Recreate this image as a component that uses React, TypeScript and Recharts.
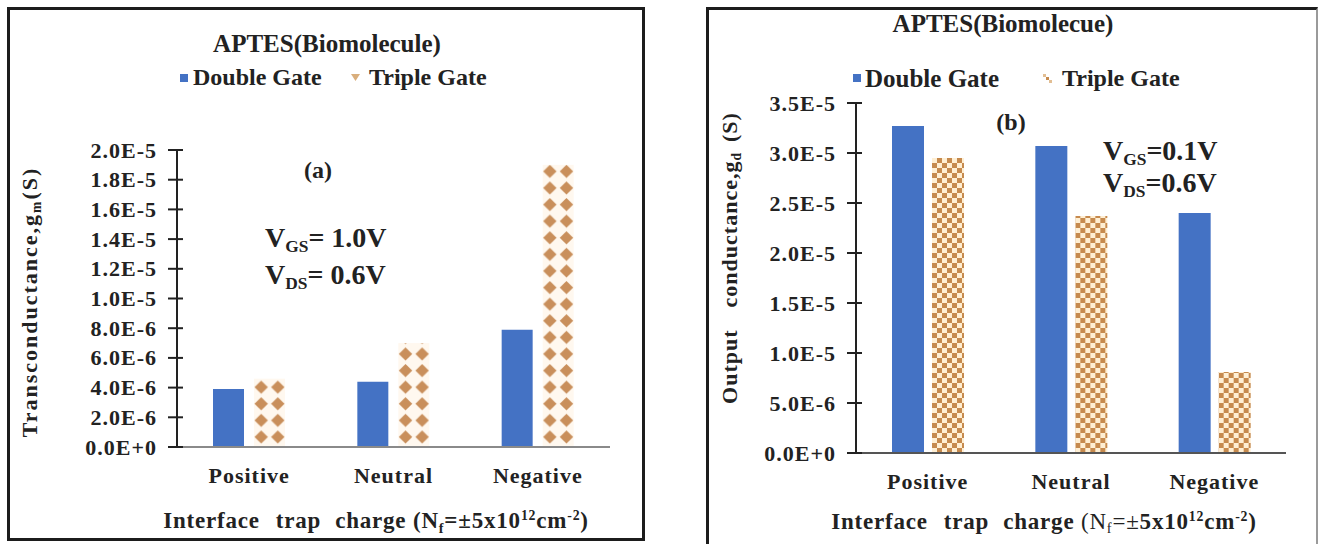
import { BarChart, Bar, XAxis, YAxis } from 'recharts';

// values
const categories = ['Positive', 'Neutral', 'Negative'];

const gmDouble = [3.9e-6, 4.4e-6, 7.9e-6];
const gmTriple = [4.6e-6, 7.0e-6, 1.9e-5];
const gmTicks = [0, 2e-6, 4e-6, 6e-6, 8e-6, 1e-5, 1.2e-5, 1.4e-5, 1.6e-5, 1.8e-5, 2e-5];

const gdDouble = [3.27e-5, 3.07e-5, 2.4e-5];
const gdTriple = [2.95e-5, 2.37e-5, 8.1e-6];
const gdTicks = [0, 5e-6, 1e-5, 1.5e-5, 2e-5, 2.5e-5, 3e-5, 3.5e-5];

const FONT = '"Liberation Serif", "Times New Roman", serif';
const INK = '#222';
const BLUE = '#4472C4';

const gmData = categories.map((c, i) => ({ cat: c, dg: gmDouble[i], tg: gmTriple[i] }));
const gdData = categories.map((c, i) => ({ cat: c, dg: gdDouble[i], tg: gdTriple[i] }));

const fmt = (v: number) => v.toExponential(1).toUpperCase();

const YTick = (props: any) => {
  const { x, y, payload } = props;
  return (
    <g>
      <line x1={x - 9} x2={x + 6} y1={y} y2={y} stroke={INK} strokeWidth={2} />
      <text x={x - 20} y={y} textAnchor="end" dominantBaseline="central" fontFamily={FONT}
        fontWeight="bold" fontSize={22} letterSpacing={1} fill={INK}>
        {fmt(payload.value)}
      </text>
    </g>
  );
};

const XTick = (props: any) => {
  const { x, y, payload } = props;
  return (
    <text x={x} y={y + 28} textAnchor="middle" dominantBaseline="central" fontFamily={FONT}
      fontWeight="bold" fontSize={22} letterSpacing={1} fill={INK}>
      {payload.value}
    </text>
  );
};

// diamond pattern bars (panel a)
const DiamondBar = (props: any) => {
  const { x, y, width, height, index } = props;
  if (!height || height <= 0) return null;
  const id = `dia-${index}`;
  const s = 16.6;
  return (
    <g>
      <defs>
        <pattern id={id} patternUnits="userSpaceOnUse" x={x + width / 2 - s} y={y + height} width={s} height={s}>
          <rect width={s} height={s} fill="#FFF8EF" />
          <polygon points="8.3,0 15.0,6.6 8.3,13.2 1.6,6.6" fill="#C98F5B" />
        </pattern>
      </defs>
      <rect x={x} y={y} width={width} height={height} fill={`url(#${id})`} />
    </g>
  );
};

// checker pattern bars (panel b)
const CheckerBar = (props: any) => {
  const { x, y, width, height, index } = props;
  if (!height || height <= 0) return null;
  const id = `chk-${index}`;
  return (
    <g>
      <defs>
        <pattern id={id} patternUnits="userSpaceOnUse" x={x} y={y + height} width={10} height={10}>
          <rect width={10} height={10} fill="#FFEFD3" />
          <rect x={0} y={0} width={5} height={5} fill="#C68A4E" />
          <rect x={5} y={5} width={5} height={5} fill="#C68A4E" />
        </pattern>
      </defs>
      <rect x={x} y={y} width={width} height={height} fill={`url(#${id})`} />
    </g>
  );
};

const Txt = ({ x, y, size, children, anchor = 'middle', rotate = false, style = {} }: any) => {
  const tx = anchor === 'middle' ? '-50%' : anchor === 'end' ? '-100%' : '0';
  return (
    <div style={{
      position: 'absolute', left: x, top: y,
      transform: `translate(${tx}, -50%)${rotate ? ' rotate(-90deg)' : ''}`,
      fontFamily: FONT, fontWeight: 'bold', fontSize: size, lineHeight: 1,
      whiteSpace: 'pre', color: INK, ...style,
    }}>
      {children}
    </div>
  );
};

const sub = (t: string, size = '0.62em') => (
  <span style={{ fontSize: size, verticalAlign: '-0.3em' }}>{t}</span>
);
const sup = (t: string) => (
  <span style={{ fontSize: '0.6em', verticalAlign: '0.6em' }}>{t}</span>
);
const word = (t: string, gap: number) => (
  <span style={{ marginRight: gap }}>{t}</span>
);

export default function App() {
  return (
    <div style={{ position: 'absolute', left: 0, top: 0, width: 1319, height: 544, background: '#fff', overflow: 'hidden' }}>
      {/* frames */}
      <div style={{ position: 'absolute', left: 7, top: 7, width: 638, height: 534, border: '3px solid #1c1c1c', boxSizing: 'border-box' }} />
      <div style={{ position: 'absolute', left: 706, top: 7, width: 612, height: 560, borderLeft: '3px solid #1c1c1c', borderTop: '3px solid #1c1c1c', borderRight: '2px solid #9a9a9a', boxSizing: 'border-box' }} />

      {/* panel (a) */}
      <div style={{ position: 'absolute', left: 0, top: 0 }}>
        <BarChart width={660} height={544} data={gmData} margin={{ top: 150, right: 50, bottom: 57, left: 77 }} barSize={31} barGap={10}>
          <XAxis dataKey="cat" height={40} interval={0} tickSize={0} tickMargin={0} tickLine={false}
            axisLine={{ stroke: '#8a8a8a', strokeWidth: 2 }} tick={(p: any) => <XTick {...p} />} />
          <YAxis width={100} domain={[0, 2e-5]} ticks={gmTicks} interval={0} tickSize={0} tickMargin={0} tickLine={false}
            axisLine={{ stroke: INK, strokeWidth: 2 }} tick={(p: any) => <YTick {...p} />} />
          <Bar dataKey="dg" fill={BLUE} isAnimationActive={false} />
          <Bar dataKey="tg" shape={(p: any) => <DiamondBar {...p} />} isAnimationActive={false} />
        </BarChart>
      </div>

      {/* panel (b) */}
      <div style={{ position: 'absolute', left: 700, top: 0 }}>
        <BarChart width={619} height={544} data={gdData} margin={{ top: 103, right: 33, bottom: 51, left: 56 }} barSize={32} barGap={8}>
          <XAxis dataKey="cat" height={40} interval={0} tickSize={0} tickMargin={0} tickLine={false}
            axisLine={{ stroke: '#555', strokeWidth: 2 }} tick={(p: any) => <XTick {...p} />} />
          <YAxis width={100} domain={[0, 3.5e-5]} ticks={gdTicks} interval={0} tickSize={0} tickMargin={0} tickLine={false}
            axisLine={{ stroke: INK, strokeWidth: 2 }} tick={(p: any) => <YTick {...p} />} />
          <Bar dataKey="dg" fill={BLUE} isAnimationActive={false} />
          <Bar dataKey="tg" shape={(p: any) => <CheckerBar {...p} />} isAnimationActive={false} />
        </BarChart>
      </div>

      {/* panel (a) texts */}
      <Txt x={327} y={43} size={25}>APTES(Biomolecule)</Txt>
      <div style={{ position: 'absolute', left: 180, top: 74, width: 8, height: 8, background: BLUE }} />
      <Txt x={193} y={77} size={24} anchor="start">Double Gate</Txt>
      <svg style={{ position: 'absolute', left: 351, top: 74 }} width={9} height={8}>
        <polygon points="0,0 9,0 4.5,7" fill="#D9AE7C" />
      </svg>
      <Txt x={369} y={77} size={24} anchor="start">Triple Gate</Txt>
      <Txt x={318} y={170} size={24}>(a)</Txt>
      <Txt x={265} y={240} size={28} anchor="start">V{sub('GS')}= 1.0V</Txt>
      <Txt x={265} y={277} size={28} anchor="start">V{sub('DS')}= 0.6V</Txt>
      <Txt x={31} y={302} size={22} rotate style={{ letterSpacing: 2 }}>Transconductance,g{sub('m')}(S)</Txt>
      <Txt x={376} y={522} size={23} style={{ letterSpacing: 0.8 }}>
        {word('Interface', 16)}{word('trap', 14)}charge (N{sub('f')}=±5x10{sup('12')}cm{sup('-2')})
      </Txt>

      {/* panel (b) texts */}
      <Txt x={1003} y={23} size={25}>APTES(Biomolecue)</Txt>
      <div style={{ position: 'absolute', left: 853, top: 74, width: 8, height: 8, background: BLUE }} />
      <Txt x={865} y={78} size={25} anchor="start">Double Gate</Txt>
      <svg style={{ position: 'absolute', left: 1043, top: 74 }} width={9} height={9}>
        <rect x={0} y={0} width={3} height={3} fill="#E2BE93" />
        <rect x={3} y={3} width={3} height={3} fill="#C68A4E" />
        <rect x={6} y={6} width={3} height={3} fill="#E2BE93" />
      </svg>
      <Txt x={1062} y={78} size={24} anchor="start">Triple Gate</Txt>
      <Txt x={1011} y={122} size={24}>(b)</Txt>
      <Txt x={1103} y={153} size={28} anchor="start">V{sub('GS')}=0.1V</Txt>
      <Txt x={1103} y={185} size={28} anchor="start">V{sub('DS')}=0.6V</Txt>
      <Txt x={731} y={258} size={22} rotate style={{ letterSpacing: 1 }}>
        {word('Output', 22)}conductance,g{sub('d')}<span style={{ marginLeft: 10 }}>(S)</span>
      </Txt>
      <Txt x={1044} y={523} size={23} style={{ letterSpacing: 0.8 }}>
        {word('Interface', 16)}{word('trap', 14)}charge <span style={{ fontWeight: 'normal' }}>(N{sub('f')}=±</span>5x10{sup('12')}cm{sup('-2')})
      </Txt>
    </div>
  );
}
